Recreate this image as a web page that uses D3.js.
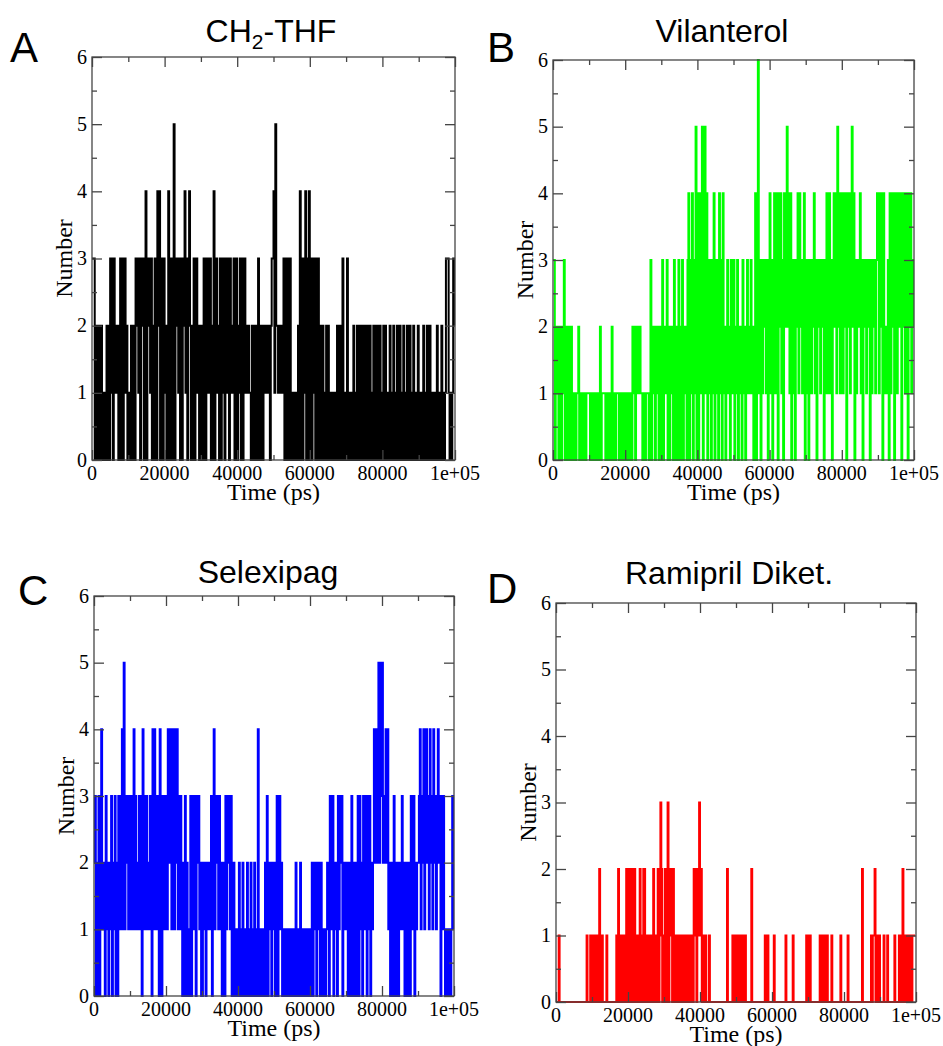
<!DOCTYPE html>
<html>
<head>
<meta charset="utf-8">
<script src="https://cdn.jsdelivr.net/npm/d3@7"></script>
<style>
body { margin: 0; background: #fff; }
svg { display: block; }
</style>
</head>
<body>
<script>
// Width and height of the whole figure
const w = 943;
const h = 1046;

// time between two saved frames (ps)
const timeStep = 250;

// tick values and the labels printed under the x axis
const xMajorTicks = [0, 20000, 40000, 60000, 80000, 100000];
const xTickLabels = ["0", "20000", "40000", "60000", "80000", "1e+05"];
const xMinorTicks = [10000, 30000, 50000, 70000, 90000];
const yMajorTicks = [0, 1, 2, 3, 4, 5, 6];
const yMinorTicks = [0.5, 1.5, 2.5, 3.5, 4.5, 5.5];

// panel letters and titles
const panelLetters = ["A", "B", "C", "D"];
const panelNames = ["CH2-THF", "Vilanterol", "Selexipag", "Ramipril Diket."];

// number of contacts, one digit per frame,
// every string holds 40 frames = 10000 ps
const countsA = [
  "3330202020201010202031303121202303023120",
  "0102021032313032303403231302033042403203",
  "2102403030503231303032413034202030231202",
  "0203302312302040231203031302313032123023",
  "0213030231212110202020230202021212120233",
  "4152212121230330303010101012040303140304",
  "0303130303020120102021010101012012013010",
  "0301010120102022020202020120102020201201",
  "0202010120102010201201020102012010201012",
  "0101020102012010101020101201013331010132"
];
const countsB = [
  "3302120120123021020120101011201011010111",
  "1011010110102011110101010201101110101011",
  "0101011021202121211011011101302120212021",
  "0302123020212030202302030212034031403150",
  "4034150451403130314031304130412023120312",
  "3021302120312023121312024046130313231303",
  "4130341340424130424524140313032414231340",
  "3130231324130323132303141341303424152414",
  "4142404241452403132341303231323031323134",
  "4142404121230414240341423404241340424132"
];
const countsC = [
  "2302030341210312021302130203131415132313",
  "3131413212313041313212310414131304103131",
  "3142341441424131310203020103023130323120",
  "0212021212303413231312021031323130120101",
  "0201020101201020102010401010102030212021",
  "2023023120101010101010102010120101010101",
  "0120212021202101101210312302120313230212",
  "1202103102102303120313303130212424245253",
  "5232424120210310210212312021021031230212",
  "2341324134231423142313423031310101010131"
];
const countsD = [
  "0001000000000000000000000000000000100010",
  "1011010120110000100000000001020101010120",
  "2020120201010201022010101010201012013201",
  "0202302120201011010010101101010102120213",
  "1201101000100000000000000000002000001010",
  "1101011010100000020000000000000010110000",
  "0010000000000001000000010000000000000011",
  "0110000000000101101101000010000000001000",
  "0000100000000000000020000000001011201101",
  "0000100010000000100001010210110101101111"
];

// where each panel sits on the page
const panels = [
  {counts: countsA, color: "#000000", x0: 92, x1: 455, y0: 57, y1: 460, titleX: 271, titleY: 42, letterX: 10, letterY: 62},
  {counts: countsB, color: "#00ff00", x0: 553, x1: 914, y0: 60, y1: 460, titleX: 722, titleY: 42, letterX: 487, letterY: 62},
  {counts: countsC, color: "#0000ff", x0: 94, x1: 454, y0: 596, y1: 996, titleX: 268, titleY: 583, letterX: 18, letterY: 605},
  {counts: countsD, color: "#ff0000", x0: 556, x1: 916, y0: 603, y1: 1002, titleX: 729, titleY: 584, letterX: 487, letterY: 603}
];

const svg = d3.select("body")
  .append("svg")
  .attr("width", w)
  .attr("height", h);

svg.append("rect")
  .attr("width", w)
  .attr("height", h)
  .attr("fill", "#fff");

const frameColor = "#454545";
const serif = "'Liberation Serif', 'Times New Roman', serif";
const sans = "'Liberation Sans', Arial, sans-serif";

panels.forEach((p, i) => drawPanel(p, i));

function drawPanel(p, i) {
  // turn the digit strings into {t, n} points
  const data = p.counts.join("").split("").map((c, k) => ({t: k * timeStep, n: +c}));

  const x = d3.scaleLinear().domain([0, 100000]).range([p.x0, p.x1]);
  const y = d3.scaleLinear().domain([0, 6]).range([p.y1, p.y0]);

  const g = svg.append("g");

  // the time series, every frame held until the next one so jumps stay vertical
  const line = d3.line()
    .curve(d3.curveStepAfter)
    .x(d => x(d.t))
    .y(d => y(d.n));

  g.append("path")
    .datum(data)
    .attr("d", line)
    .attr("fill", "none")
    .attr("stroke", p.color)
    .attr("stroke-width", 2);

  // inward ticks on all four sides
  tickAxis(g, d3.axisBottom(x), xMajorTicks, -10, `translate(0,${p.y1})`);
  tickAxis(g, d3.axisBottom(x), xMinorTicks, -5, `translate(0,${p.y1})`);
  tickAxis(g, d3.axisTop(x), xMajorTicks, -10, `translate(0,${p.y0})`);
  tickAxis(g, d3.axisTop(x), xMinorTicks, -5, `translate(0,${p.y0})`);
  tickAxis(g, d3.axisLeft(y), yMajorTicks, -10, `translate(${p.x0},0)`);
  tickAxis(g, d3.axisLeft(y), yMinorTicks, -5, `translate(${p.x0},0)`);
  tickAxis(g, d3.axisRight(y), yMajorTicks, -10, `translate(${p.x1},0)`);
  tickAxis(g, d3.axisRight(y), yMinorTicks, -5, `translate(${p.x1},0)`);

  // frame
  g.append("rect")
    .attr("x", p.x0)
    .attr("y", p.y0)
    .attr("width", p.x1 - p.x0)
    .attr("height", p.y1 - p.y0)
    .attr("fill", "none")
    .attr("stroke", frameColor)
    .attr("stroke-width", 1.3);

  // tick labels
  g.selectAll(".xlab")
    .data(xMajorTicks)
    .enter()
    .append("text")
    .attr("x", d => x(d))
    .attr("y", p.y1 + 20)
    .attr("text-anchor", "middle")
    .style("font-family", serif)
    .style("font-size", "20px")
    .text((d, k) => xTickLabels[k]);

  g.selectAll(".ylab")
    .data(yMajorTicks)
    .enter()
    .append("text")
    .attr("x", p.x0 - 5)
    .attr("y", d => y(d))
    .attr("dy", "0.33em")
    .attr("text-anchor", "end")
    .style("font-family", serif)
    .style("font-size", "20px")
    .text(d => d);

  // axis titles
  g.append("text")
    .attr("x", (p.x0 + p.x1) / 2)
    .attr("y", p.y1 + 40)
    .attr("text-anchor", "middle")
    .style("font-family", serif)
    .style("font-size", "24px")
    .text("Time (ps)");

  g.append("text")
    .attr("transform", `translate(${p.x0 - 20},${(p.y0 + p.y1) / 2}) rotate(-90)`)
    .attr("text-anchor", "middle")
    .style("font-family", serif)
    .style("font-size", "24px")
    .text("Number");

  // title, digits become subscripts (CH2)
  const title = g.append("text")
    .attr("x", p.titleX)
    .attr("y", p.titleY)
    .attr("text-anchor", "middle")
    .style("font-family", sans)
    .style("font-size", "32px");
  panelNames[i].split(/(\d)/).filter(s => s !== "").forEach(s => {
    if (/^\d$/.test(s)) {
      title.append("tspan").attr("dy", 7).style("font-size", "21px").text(s);
    } else {
      const ts = title.append("tspan").text(s);
      if (title.selectAll("tspan").size() > 1) ts.attr("dy", -7);
    }
  });

  // panel letter
  g.append("text")
    .attr("x", p.letterX)
    .attr("y", p.letterY)
    .style("font-family", sans)
    .style("font-size", "42px")
    .text(panelLetters[i]);
}

// draws tick marks only, no labels and no domain line
function tickAxis(g, axis, values, size, transform) {
  const a = g.append("g")
    .attr("transform", transform)
    .call(axis.tickValues(values).tickSize(size).tickFormat(""));
  a.select(".domain").remove();
  a.selectAll("line").attr("stroke", frameColor).attr("stroke-width", 1.3);
}
</script>
</body>
</html>
